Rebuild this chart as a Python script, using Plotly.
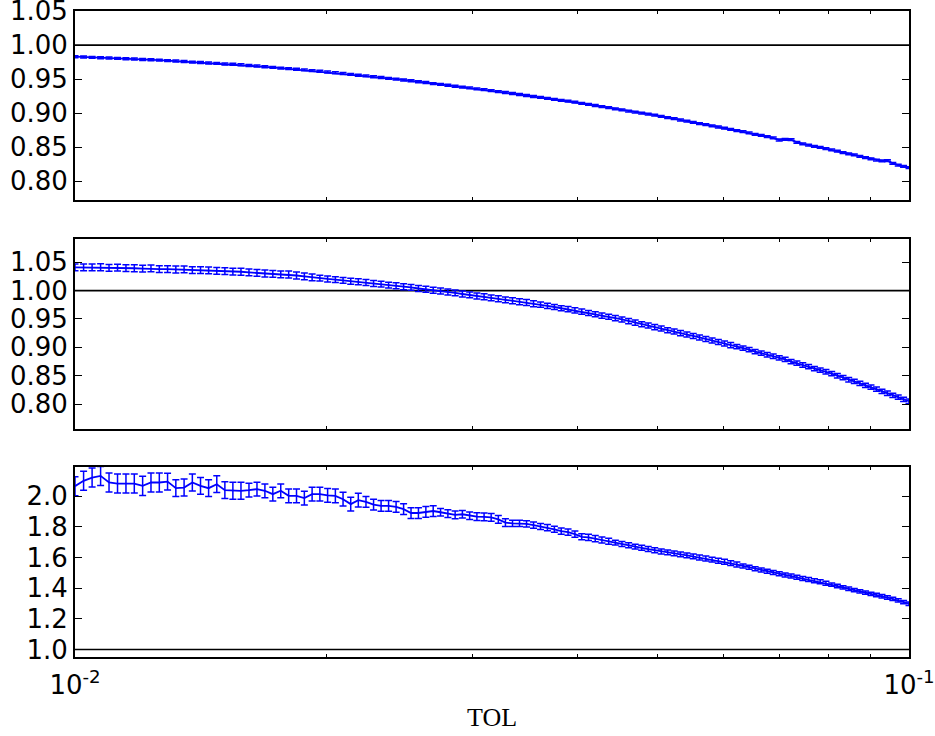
import plotly.graph_objects as go

# ---- data ----
# TOL sample positions, given as fraction of the decade above 1e-2 (log10(TOL) + 2)
tol_decade = [
    0.0000, 0.0103, 0.0205, 0.0307, 0.0408, 0.0510, 0.0611, 0.0711, 0.0811, 0.0911,
    0.1011, 0.1110, 0.1209, 0.1308, 0.1407, 0.1505, 0.1602, 0.1700, 0.1797, 0.1893,
    0.1990, 0.2086, 0.2182, 0.2277, 0.2372, 0.2467, 0.2562, 0.2656, 0.2750, 0.2843,
    0.2936, 0.3029, 0.3122, 0.3214, 0.3306, 0.3397, 0.3489, 0.3580, 0.3670, 0.3760,
    0.3850, 0.3940, 0.4029, 0.4118, 0.4207, 0.4295, 0.4383, 0.4471, 0.4558, 0.4645,
    0.4732, 0.4819, 0.4905, 0.4990, 0.5076, 0.5161, 0.5246, 0.5330, 0.5414, 0.5498,
    0.5582, 0.5665, 0.5748, 0.5830, 0.5912, 0.5994, 0.6076, 0.6157, 0.6238, 0.6318,
    0.6399, 0.6479, 0.6558, 0.6638, 0.6717, 0.6795, 0.6873, 0.6951, 0.7029, 0.7106,
    0.7184, 0.7260, 0.7337, 0.7413, 0.7488, 0.7564, 0.7639, 0.7714, 0.7788, 0.7862,
    0.7936, 0.8010, 0.8083, 0.8155, 0.8228, 0.8300, 0.8372, 0.8444, 0.8515, 0.8586,
    0.8656, 0.8726, 0.8796, 0.8866, 0.8935, 0.9004, 0.9073, 0.9141, 0.9209, 0.9277,
    0.9344, 0.9411, 0.9478, 0.9544, 0.9610, 0.9676, 0.9741, 0.9806, 0.9871, 0.9935,
    1.0000,
]

ratio_top = [
    0.9830, 0.9826, 0.9821, 0.9816, 0.9812, 0.9806, 0.9801, 0.9797, 0.9790, 0.9786,
    0.9780, 0.9773, 0.9766, 0.9759, 0.9751, 0.9746, 0.9738, 0.9732, 0.9724, 0.9719,
    0.9711, 0.9702, 0.9693, 0.9682, 0.9674, 0.9663, 0.9655, 0.9645, 0.9636, 0.9626,
    0.9617, 0.9606, 0.9595, 0.9583, 0.9571, 0.9558, 0.9548, 0.9535, 0.9524, 0.9512,
    0.9501, 0.9488, 0.9477, 0.9462, 0.9450, 0.9435, 0.9424, 0.9410, 0.9397, 0.9383,
    0.9372, 0.9357, 0.9346, 0.9332, 0.9317, 0.9303, 0.9289, 0.9274, 0.9261, 0.9245,
    0.9232, 0.9218, 0.9204, 0.9189, 0.9176, 0.9162, 0.9145, 0.9128, 0.9113, 0.9096,
    0.9081, 0.9064, 0.9049, 0.9032, 0.9017, 0.9000, 0.8987, 0.8970, 0.8954, 0.8935,
    0.8920, 0.8900, 0.8883, 0.8866, 0.8848, 0.8831, 0.8814, 0.8797, 0.8779, 0.8762,
    0.8745, 0.8728, 0.8711, 0.8690, 0.8674, 0.8655, 0.8636, 0.8606, 0.8616, 0.8611,
    0.8572, 0.8550, 0.8531, 0.8513, 0.8496, 0.8480, 0.8461, 0.8441, 0.8422, 0.8402,
    0.8386, 0.8365, 0.8347, 0.8329, 0.8310, 0.8300, 0.8302, 0.8262, 0.8237, 0.8217,
    0.8200,
]
err_top = [0.0014] * 60 + [0.0013] * 61

ratio_mid = [
    1.0410, 1.0408, 1.0409, 1.0412, 1.0401, 1.0404, 1.0396, 1.0394, 1.0388, 1.0390,
    1.0380, 1.0377, 1.0372, 1.0373, 1.0362, 1.0360, 1.0355, 1.0347, 1.0343, 1.0336,
    1.0332, 1.0321, 1.0313, 1.0301, 1.0294, 1.0286, 1.0284, 1.0266, 1.0250, 1.0232,
    1.0220, 1.0205, 1.0194, 1.0181, 1.0166, 1.0155, 1.0142, 1.0126, 1.0114, 1.0097,
    1.0085, 1.0069, 1.0056, 1.0037, 1.0023, 1.0005, 0.9993, 0.9974, 0.9959, 0.9940,
    0.9925, 0.9905, 0.9891, 0.9871, 0.9855, 0.9837, 0.9821, 0.9803, 0.9789, 0.9769,
    0.9752, 0.9731, 0.9711, 0.9690, 0.9673, 0.9651, 0.9629, 0.9604, 0.9584, 0.9559,
    0.9539, 0.9515, 0.9491, 0.9461, 0.9436, 0.9407, 0.9385, 0.9356, 0.9331, 0.9302,
    0.9280, 0.9251, 0.9225, 0.9200, 0.9174, 0.9147, 0.9121, 0.9093, 0.9067, 0.9039,
    0.9013, 0.8985, 0.8959, 0.8925, 0.8899, 0.8869, 0.8843, 0.8813, 0.8787, 0.8749,
    0.8721, 0.8688, 0.8659, 0.8626, 0.8597, 0.8569, 0.8536, 0.8499, 0.8466, 0.8429,
    0.8401, 0.8364, 0.8331, 0.8297, 0.8262, 0.8222, 0.8191, 0.8152, 0.8121, 0.8081,
    0.8050,
]
err_mid = [0.0060] * 30 + [0.0052] * 30 + [0.0045] * 30 + [0.0038] * 31

ratio_bot = [
    2.065, 2.100, 2.121, 2.132, 2.089, 2.082, 2.082, 2.082, 2.067, 2.089,
    2.089, 2.095, 2.052, 2.056, 2.089, 2.067, 2.052, 2.078, 2.039, 2.035,
    2.035, 2.039, 2.046, 2.035, 2.013, 2.035, 2.002, 2.002, 1.987, 2.013,
    2.013, 2.005, 2.002, 1.980, 1.948, 1.974, 1.962, 1.945, 1.937, 1.937,
    1.930, 1.915, 1.890, 1.890, 1.898, 1.903, 1.895, 1.886, 1.878, 1.882,
    1.872, 1.866, 1.865, 1.862, 1.848, 1.827, 1.822, 1.822, 1.819, 1.811,
    1.802, 1.795, 1.784, 1.772, 1.765, 1.752, 1.735, 1.731, 1.723, 1.714,
    1.706, 1.697, 1.688, 1.680, 1.671, 1.663, 1.655, 1.647, 1.639, 1.633,
    1.627, 1.620, 1.614, 1.607, 1.600, 1.593, 1.586, 1.579, 1.572, 1.563,
    1.554, 1.545, 1.536, 1.527, 1.518, 1.510, 1.502, 1.494, 1.486, 1.479,
    1.471, 1.463, 1.456, 1.448, 1.441, 1.432, 1.423, 1.414, 1.405, 1.396,
    1.387, 1.379, 1.371, 1.363, 1.355, 1.347, 1.339, 1.330, 1.320, 1.309,
    1.298,
]
err_bot = ([0.062] * 11 + [0.055] * 10 + [0.045] * 15 + [0.035] * 10 +
           [0.025] * 10 + [0.020] * 15 + [0.016] * 20 + [0.013] * 15 + [0.011] * 15)

reference_level = 1.0

x_tick_vals = [0.01, 0.1]
x_tick_text = ["10<sup>-2</sup>", "10<sup>-1</sup>"]
x_minor_vals = [0.02, 0.03, 0.04, 0.05, 0.06, 0.07, 0.08, 0.09]
y_ticks_top = [0.80, 0.85, 0.90, 0.95, 1.00, 1.05]
y_ticks_mid = [0.80, 0.85, 0.90, 0.95, 1.00, 1.05]
y_ticks_bot = [1.0, 1.2, 1.4, 1.6, 1.8, 2.0]
x_title = "TOL"

# ---- figure ----
tol = [0.01 * 10 ** d for d in tol_decade]

BLUE = "#0000ff"
TICKFONT = dict(family="DejaVu Sans", size=26, color="black")

fig = go.Figure()
series = [
    (ratio_top, err_top, "x", "y"),
    (ratio_mid, err_mid, "x2", "y2"),
    (ratio_bot, err_bot, "x3", "y3"),
]
for yv, ev, xa, ya in series:
    fig.add_trace(go.Scatter(
        x=tol, y=yv, mode="lines",
        line=dict(color=BLUE, width=1.8),
        error_y=dict(type="data", array=ev, visible=True, color=BLUE,
                     thickness=1.5, width=3.5),
        xaxis=xa, yaxis=ya, showlegend=False, hoverinfo="skip",
    ))

xaxis_common = dict(
    type="log", range=[-2, -1], showline=True, linecolor="black", linewidth=1.8,
    mirror="ticks", ticks="inside", ticklen=7, tickwidth=1, tickcolor="black",
    tickvals=x_tick_vals, ticktext=x_tick_text, showgrid=False, zeroline=False,
    tickfont=TICKFONT, domain=[0, 1], automargin=False, ticklabelstandoff=4,
    ticklabeloverflow="allow",
    minor=dict(tickvals=x_minor_vals, ticks="inside", ticklen=3.5,
               tickwidth=1, tickcolor="black", showgrid=False),
)
yaxis_common = dict(
    showline=True, linecolor="black", linewidth=1.8, mirror="ticks",
    ticks="inside", ticklen=7, tickwidth=1, tickcolor="black",
    showgrid=False, zeroline=False, tickfont=TICKFONT, automargin=False,
    ticklabeloverflow="allow",
)

fig.update_layout(
    width=935, height=736,
    margin=dict(l=75, r=26, t=11, b=79),
    paper_bgcolor="white", plot_bgcolor="white",
    xaxis=dict(xaxis_common, anchor="y", showticklabels=False),
    xaxis2=dict(xaxis_common, anchor="y2", matches="x", showticklabels=False),
    xaxis3=dict(xaxis_common, anchor="y3", matches="x", showticklabels=True),
    yaxis=dict(yaxis_common, anchor="x", domain=[0.7070, 1.0], range=[0.772, 1.0502],
               tickvals=y_ticks_top, tickformat=".2f"),
    yaxis2=dict(yaxis_common, anchor="x2", domain=[0.3529, 0.6471], range=[0.756, 1.091],
                tickvals=y_ticks_mid, tickformat=".2f"),
    yaxis3=dict(yaxis_common, anchor="x3", domain=[0.0, 0.2941], range=[0.951, 2.19],
                tickvals=y_ticks_bot, tickformat=".1f"),
)

for xa, ya in [("x", "y"), ("x2", "y2"), ("x3", "y3")]:
    fig.add_shape(type="line", xref=f"{xa} domain", x0=0, x1=1,
                  yref=ya, y0=reference_level, y1=reference_level,
                  line=dict(color="black", width=1.6), layer="below")

fig.add_annotation(text=x_title, xref="paper", yref="paper", x=0.5, y=-0.093,
                   xanchor="center", yanchor="middle", showarrow=False,
                   font=dict(family="Liberation Serif", size=26, color="black"))

fig.write_html(
    "out.html",
    config={"displayModeBar": False},
    post_script="document.body.style.margin='0';document.body.style.overflow='hidden';",
)
